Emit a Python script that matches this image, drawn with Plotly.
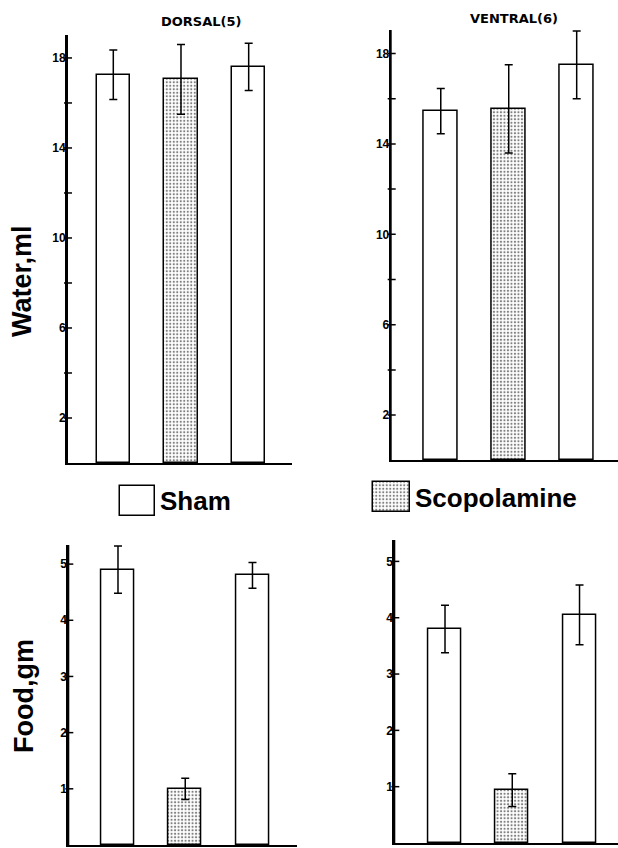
import plotly.graph_objects as go

W, H = 618, 848

# ---------------- data ----------------
positions = [0, 1, 2]
groups = ["Sham", "Scopolamine", "Sham"]
patterns = ["", ".", ""]

water_dorsal = [17.25, 17.05, 17.6]
water_dorsal_err = [1.1, 1.55, 1.05]
water_ventral = [15.45, 15.55, 17.5]
water_ventral_err = [1.0, 1.95, 1.5]
food_dorsal = [4.9, 1.0, 4.8]
food_dorsal_err = [0.42, 0.19, 0.23]
food_ventral = [3.8, 0.94, 4.05]
food_ventral_err = [0.42, 0.29, 0.53]

water_ticks = [2, 4, 6, 8, 10, 12, 14, 16, 18]
water_ticktext = ["2", "", "6", "", "10", "", "14", "", "18"]
food_ticks = [1, 2, 3, 4, 5]
food_ticktext = ["1", "2", "3", "4", "5"]

titles = ["DORSAL(5)", "VENTRAL(6)"]
ylabels = ["Water,ml", "Food,gm"]
legend_labels = ["Sham", "Scopolamine"]


def px(x):
    return x / W


def py(y):
    return 1 - y / H


FONT = "Liberation Sans, Arial, sans-serif"

panels = [
    (water_dorsal, water_dorsal_err, (67, 292), (463, 35), (-0.684, 2.64), (0, 19.02), water_ticks, water_ticktext),
    (water_ventral, water_ventral_err, (390.7, 618), (460.3, 30), (-0.737, 2.608), (0, 19.04), water_ticks, water_ticktext),
    (food_dorsal, food_dorsal_err, (68.3, 297), (845, 545), (-0.739, 2.662), (0, 5.34), food_ticks, food_ticktext),
    (food_ventral, food_ventral_err, (394.3, 618), (843, 540), (-0.754, 2.572), (0, 5.38), food_ticks, food_ticktext),
]

fig = go.Figure()
layout = {}
shapes = []

for i, (vals, errs, xd, yd, xr, yr, tv, tt) in enumerate(panels):
    n = i + 1
    xa = "x" if n == 1 else f"x{n}"
    ya = "y" if n == 1 else f"y{n}"
    xkey = "xaxis" if n == 1 else f"xaxis{n}"
    ykey = "yaxis" if n == 1 else f"yaxis{n}"
    fig.add_trace(go.Bar(
        x=positions, y=vals, width=0.49,
        xaxis=xa, yaxis=ya,
        marker=dict(color="white", line=dict(color="black", width=1.5),
                    pattern=dict(shape=patterns, fgcolor="black", bgcolor="white",
                                 size=3.5, solidity=0.3)),
        error_y=dict(type="data", array=errs, color="black", thickness=1.5, width=4),
        showlegend=False, hoverinfo="skip",
    ))
    layout[xkey] = dict(domain=[px(xd[0]), px(xd[1])], range=list(xr), anchor=ya,
                        showline=True, linecolor="black", linewidth=2,
                        showticklabels=False, ticks="", showgrid=False, zeroline=False)
    layout[ykey] = dict(domain=[py(yd[0]), py(yd[1])], range=list(yr), anchor=xa,
                        showline=True, linecolor="black", linewidth=2,
                        tickvals=tv, ticktext=tt, ticks="", ticklabelstandoff=-3,
                        tickfont=dict(family=FONT, size=12, color="black", weight="bold"),
                        showgrid=False, zeroline=False)
    # vertical axis line
    shapes.append(dict(type="line", xref=f"{xa} domain", yref=f"{ya} domain",
                       x0=0, x1=0, y0=0, y1=1, line=dict(color="black", width=2)))
    # crossing tick marks at each tick value
    for v in tv:
        shapes.append(dict(type="line", xref=f"{xa} domain", yref=ya,
                           xsizemode="pixel", xanchor=0, x0=-3, x1=5, y0=v, y1=v,
                           line=dict(color="black", width=1.5)))

# legend swatches as small bar axes
swatches = [((120, 155), (516, 486), ""), ((373, 410), (512, 482), ".")]
for j, (xd, yd, pat) in enumerate(swatches):
    n = 9 + j
    fig.add_trace(go.Bar(
        x=[0], y=[1], width=1, xaxis=f"x{n}", yaxis=f"y{n}",
        marker=dict(color="white", line=dict(color="black", width=1.5),
                    pattern=dict(shape=pat, fgcolor="black", bgcolor="white", size=3.5, solidity=0.3)),
        showlegend=False, hoverinfo="skip",
    ))
    pad_x = 2 / (xd[1] - xd[0])
    pad_y = 2 / (yd[0] - yd[1])
    layout[f"xaxis{n}"] = dict(domain=[px(xd[0] - 2), px(xd[1] + 2)],
                               range=[-0.5 - pad_x, 0.5 + pad_x], anchor=f"y{n}",
                               visible=False, fixedrange=True)
    layout[f"yaxis{n}"] = dict(domain=[py(yd[0] + 2), py(yd[1] - 2)],
                               range=[-pad_y, 1 + pad_y], anchor=f"x{n}",
                               visible=False, fixedrange=True)

common = dict(xref="paper", yref="paper", showarrow=False, xanchor="center", yanchor="middle")
annotations = [
    dict(text=titles[0], x=px(201), y=py(22),
         font=dict(family="DejaVu Sans", size=13, color="black", weight="bold"), **common),
    dict(text=titles[1], x=px(514), y=py(18),
         font=dict(family="DejaVu Sans", size=13, color="black", weight="bold"), **common),
    dict(text=ylabels[0], x=px(22), y=py(281), textangle=-90,
         font=dict(family=FONT, size=27, color="black", weight="bold"), **common),
    dict(text=ylabels[1], x=px(24), y=py(696), textangle=-90,
         font=dict(family=FONT, size=27, color="black", weight="bold"), **common),
]
leg = dict(xref="paper", yref="paper", showarrow=False, xanchor="left", yanchor="middle")
annotations += [
    dict(text=legend_labels[0], x=px(158), y=py(501),
         font=dict(family=FONT, size=26, color="black", weight="bold"), **leg),
    dict(text=legend_labels[1], x=px(413), y=py(498),
         font=dict(family=FONT, size=26, color="black", weight="bold"), **leg),
]

fig.update_layout(
    width=W, height=H, margin=dict(l=0, r=0, t=0, b=0),
    paper_bgcolor="white", plot_bgcolor="white",
    showlegend=False, annotations=annotations, shapes=shapes, bargap=0,
    **layout,
)

fig.write_html("out.html")
